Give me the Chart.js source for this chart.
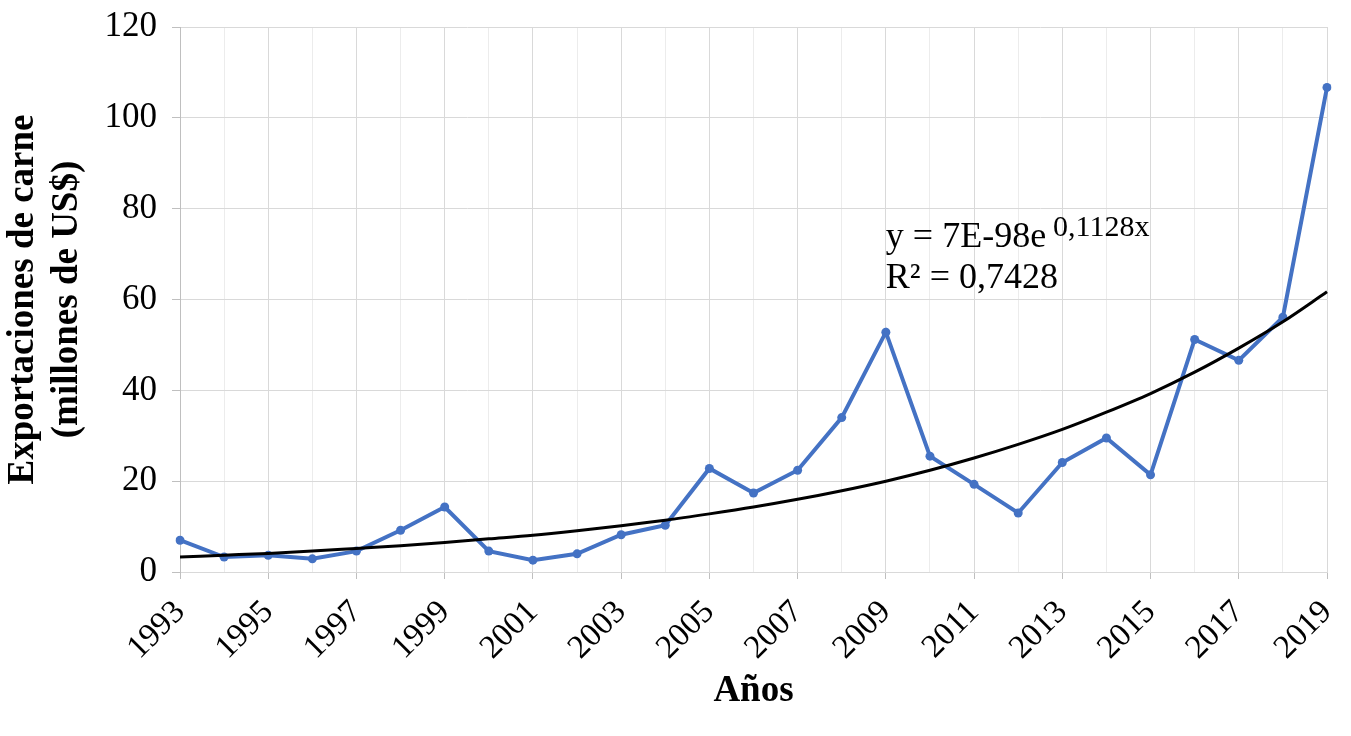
<!DOCTYPE html>
<html>
<head>
<meta charset="utf-8">
<script src="https://cdn.jsdelivr.net/npm/chart.js@4.4.1/dist/chart.umd.min.js"></script>
<style>
  body { margin: 0; background: #fff; }
  #wrap { width: 1351px; height: 736px; position: relative; }
</style>
</head>
<body>
<div id="wrap"><canvas id="expchart"></canvas></div>
<script>
var years = ["1993","1994","1995","1996","1997","1998","1999","2000","2001","2002","2003","2004","2005",
  "2006","2007","2008","2009","2010","2011","2012","2013","2014","2015","2016","2017","2018","2019"];

// exportaciones de carne, millones de US$
var exportsValues = [7.0, 3.3, 3.7, 2.9, 4.6, 9.2, 14.3, 4.6, 2.6, 4.0, 8.2, 10.3, 22.8,
  17.4, 22.4, 34.0, 52.8, 25.5, 19.3, 13.0, 24.1, 29.5, 21.4, 51.2, 46.6, 56.1, 106.7];

// exponential trendline
var trendValues = [3.3, 3.7, 4.1, 4.6, 5.2, 5.8, 6.5, 7.3, 8.1, 9.1, 10.2, 11.4, 12.8,
  14.3, 16.0, 17.9, 20.0, 22.4, 25.1, 28.1, 31.4, 35.2, 39.3, 44.0, 49.3, 55.1, 61.7];

var yTicks = [0, 20, 40, 60, 80, 100, 120];
var equationText = "y = 7E-98e";
var equationExp = "0,1128x";
var r2Text = "R\u00b2 = 0,7428";

var serif = "'Liberation Serif', 'Times New Roman', serif";

// trendline equation label (Excel style)
var equationPlugin = {
  id: "equation",
  afterDatasetsDraw: function(chart) {
    var ctx = chart.ctx;
    var xs = chart.scales.x, ys = chart.scales.y;
    var x0 = xs.getPixelForValue(16);
    var y1 = ys.getPixelForValue(71.5);
    var y2 = ys.getPixelForValue(62.5);
    ctx.save();
    ctx.fillStyle = "#000";
    ctx.textAlign = "left";
    ctx.textBaseline = "alphabetic";
    ctx.font = "36px " + serif;
    ctx.fillText(equationText, x0, y1);
    var w = ctx.measureText(equationText).width;
    ctx.fillText(r2Text, x0, y2);
    ctx.font = "30px " + serif;
    ctx.fillText(equationExp, x0 + w + 7, y1 - 11);
    ctx.restore();
  }
};

var lineData = {
  labels: years,
  datasets: [
    {
      label: "Exportaciones",
      data: exportsValues,
      borderColor: "#4472C4",
      backgroundColor: "#4472C4",
      borderWidth: 4,
      pointRadius: 4.5,
      pointBorderWidth: 0,
      pointBackgroundColor: "#4472C4",
      tension: 0,
      order: 1
    },
    {
      label: "Tendencia",
      data: trendValues,
      borderColor: "#000000",
      borderWidth: 3,
      pointRadius: 0,
      cubicInterpolationMode: "monotone",
      order: 0
    }
  ]
};

var chartOptions = {
  responsive: true,
  maintainAspectRatio: false,
  animation: false,
  layout: { padding: { top: 27, right: 24, left: 0, bottom: 0 } },
  plugins: {
    legend: { display: false },
    tooltip: { enabled: false }
  },
  scales: {
    x: {
      afterFit: function(s) {
        s.height = 164;
        s.paddingLeft = 0;
        s.paddingRight = 0;
      },
      border: { color: "#d9d9d9", width: 1 },
      grid: {
        color: function(c) { return c.index % 2 === 0 ? "#d9d9d9" : "#ececec"; },
        tickColor: function(c) { return c.index % 2 === 0 ? "#bfbfbf" : "rgba(0,0,0,0)"; },
        tickLength: 7,
        lineWidth: 1
      },
      ticks: {
        autoSkip: false,
        maxRotation: 45,
        minRotation: 45,
        padding: 14,
        color: "#000",
        font: { family: serif, size: 33 },
        callback: function(val, i) { return i % 2 === 0 ? years[i] : ""; }
      },
      title: {
        display: true,
        text: "Años",
        color: "#000",
        font: { family: serif, size: 37, weight: "bold" },
        padding: { top: 0, bottom: 22 }
      }
    },
    y: {
      min: 0,
      max: 120,
      afterFit: function(s) {
        s.width = 180;
        s.paddingTop = 0;
        s.paddingBottom = 0;
      },
      afterBuildTicks: function(s) { s.ticks = yTicks.map(function(v) { return { value: v }; }); },
      border: { color: "#bfbfbf", width: 1 },
      grid: {
        color: "#d9d9d9",
        tickColor: "#bfbfbf",
        tickLength: 8,
        lineWidth: 1
      },
      ticks: {
        padding: 15,
        color: "#000",
        font: { family: serif, size: 35 }
      },
      title: {
        display: true,
        text: ["Exportaciones de carne", "(millones de US$)"],
        color: "#000",
        font: { family: serif, size: 37, weight: "bold", lineHeight: 1.2 },
        padding: { top: 1, bottom: 0 }
      }
    }
  }
};

var ctx = document.getElementById("expchart").getContext("2d");
var expChart = new Chart(ctx, {
  type: "line",
  data: lineData,
  options: chartOptions,
  plugins: [equationPlugin]
});
</script>
</body>
</html>
